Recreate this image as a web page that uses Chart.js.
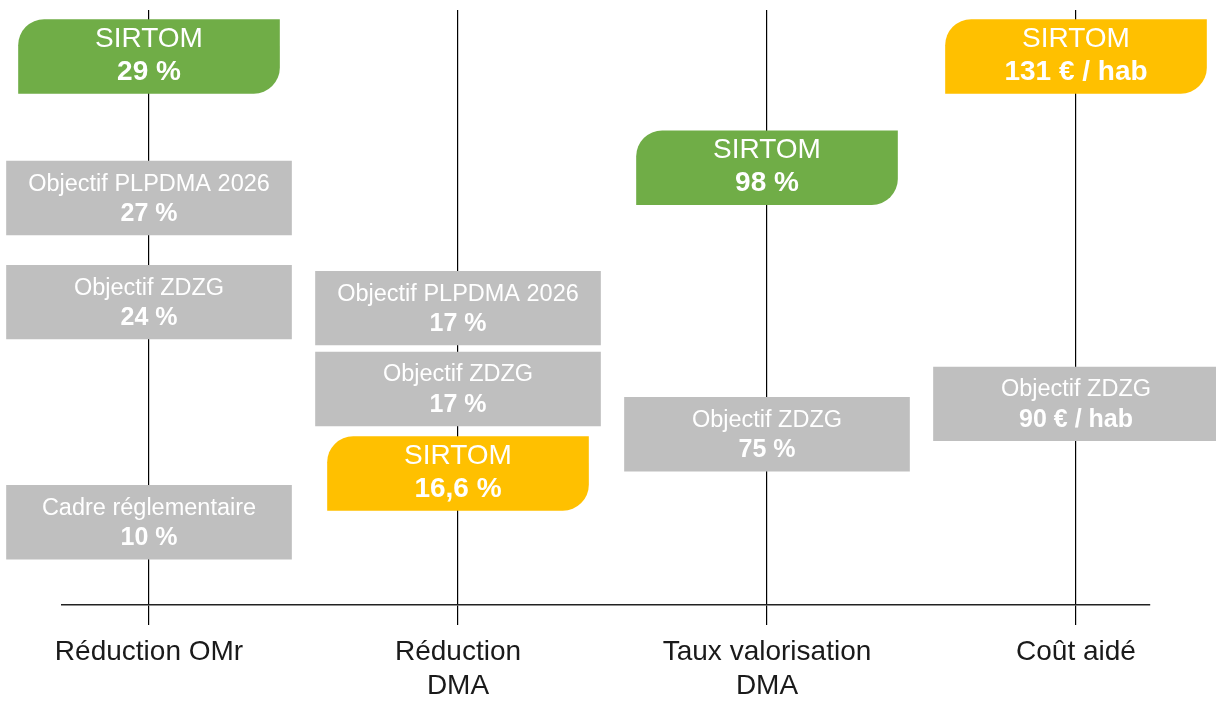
<!DOCTYPE html>
<html>
<head>
<meta charset="utf-8">
<script src="https://cdn.jsdelivr.net/npm/chart.js@4"></script>
<style>
  body { margin: 0; background: #fff; }
  #wrap { width: 1216px; height: 702px; }
</style>
</head>
<body>
<div id="wrap"><canvas id="myChart"></canvas></div>
<script>
// categories along the axis
const categories = [['Réduction OMr'], ['Réduction', 'DMA'], ['Taux valorisation', 'DMA'], ['Coût aidé']]

// SIRTOM result per category (level = height of the box on the schematic 0-100 scale)
const sirtomValues = ['29 %', '16,6 %', '98 %', '131 € / hab']
const sirtomLevels = [92.2, 22.1, 73.5, 92.2]
const sirtomReached = [true, false, true, false]

// targets
const plpdmaValues = ['27 %', '17 %', null, null]
const plpdmaLevels = [68.4, 49.9, null, null]

const zdzgValues = ['24 %', '17 %', '75 %', '90 € / hab']
const zdzgLevels = [50.9, 36.3, 28.7, 33.8]

const cadreValues = ['10 %', null, null, null]
const cadreLevels = [13.9, null, null, null]

const HALF = 6.2   // half box height, in scale units
const GREEN = '#70ad47'
const YELLOW = '#ffc000'
const GREY = '#bfbfbf'
const FONT = '"Liberation Sans", Arial, sans-serif'

function boxes(levels) {
  const out = []
  levels.forEach((lvl, i) => {
    if (lvl !== null) out.push({x: i, y: [lvl - HALF, lvl + HALF]})
  })
  return out
}
function texts(values) {
  return values.filter(v => v !== null)
}

function greyDataset(title, values, levels) {
  return {
    label: title,
    boxTitle: title,
    boxTexts: texts(values),
    data: boxes(levels),
    backgroundColor: GREY,
    barThickness: 285,
    borderSkipped: false,
    borderRadius: 0,
    grouped: false,
    clip: false,
    small: true
  }
}

const boxLabels = {
  id: 'boxLabels',
  afterDatasetsDraw(chart) {
    const ctx = chart.ctx
    ctx.save()
    ctx.textAlign = 'center'
    ctx.textBaseline = 'middle'
    ctx.fillStyle = '#ffffff'
    chart.data.datasets.forEach((ds, di) => {
      const meta = chart.getDatasetMeta(di)
      meta.data.forEach((bar, i) => {
        const cy = (bar.y + bar.base) / 2
        if (ds.small) {
          ctx.font = '23.5px ' + FONT
          ctx.fillText(ds.boxTitle, bar.x, cy - 14)
          ctx.font = 'bold 25px ' + FONT
          ctx.fillText(ds.boxTexts[i], bar.x, cy + 16)
        } else {
          ctx.font = '28px ' + FONT
          ctx.fillText(ds.boxTitle, bar.x, cy - 17)
          ctx.font = 'bold 28px ' + FONT
          ctx.fillText(ds.boxTexts[i], bar.x, cy + 16)
        }
      })
    })
    ctx.restore()
  }
}

const ctx = document.getElementById('myChart')
new Chart(ctx, {
  type: 'bar',
  data: {
    datasets: [
      {
        label: 'SIRTOM',
        boxTitle: 'SIRTOM',
        boxTexts: sirtomValues,
        data: boxes(sirtomLevels),
        backgroundColor: sirtomReached.map(r => r ? GREEN : YELLOW),
        barThickness: 261,
        borderSkipped: false,
        borderRadius: {topLeft: 26, bottomRight: 26, topRight: 0, bottomLeft: 0},
        grouped: false,
        clip: false
      },
      greyDataset('Objectif PLPDMA 2026', plpdmaValues, plpdmaLevels),
      greyDataset('Objectif ZDZG', zdzgValues, zdzgLevels),
      greyDataset('Cadre réglementaire', cadreValues, cadreLevels)
    ]
  },
  options: {
    responsive: true,
    maintainAspectRatio: false,
    animation: false,
    layout: {padding: {left: 62, right: 66, top: 10, bottom: 0}},
    plugins: {
      legend: {display: false},
      tooltip: {enabled: false}
    },
    scales: {
      x: {
        type: 'linear',
        offset: false,
        min: -0.2816,
        max: 3.2395,
        afterBuildTicks: (scale) => {
          scale.ticks = categories.map((c, i) => ({value: i}))
        },
        afterFit: (scale) => { scale.height = 97 },
        ticks: {
          autoSkip: false,
          maxRotation: 0,
          padding: 10,
          color: '#1a1a1a',
          font: {family: FONT, size: 28, lineHeight: 1.22},
          callback: (v) => categories[v]
        },
        grid: {
          offset: false,
          color: '#000',
          lineWidth: 1.2,
          tickLength: 20,
          drawTicks: true
        },
        border: {display: true, color: '#222', width: 1.5}
      },
      y: {
        display: false,
        min: 0,
        max: 100
      }
    }
  },
  plugins: [boxLabels]
})
</script>
</body>
</html>
